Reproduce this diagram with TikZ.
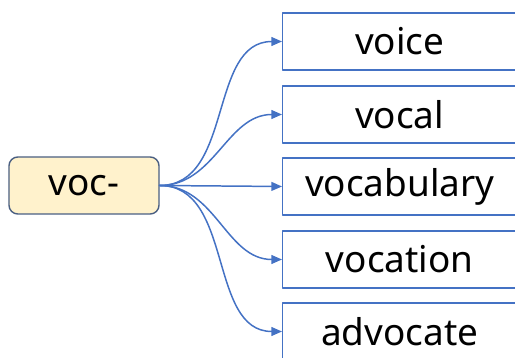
\documentclass[tikz,border=0pt]{standalone}
\usepackage{fontspec}
\setmainfont{Noto Sans}
\usetikzlibrary{arrows.meta}
\definecolor{linkblue}{HTML}{4472C4}
\definecolor{rootfill}{HTML}{FFF2CC}
\definecolor{rootline}{HTML}{4A5F82}
\begin{document}
\begin{tikzpicture}[line cap=round,line join=round,
  root/.style={draw=rootline,fill=rootfill,rounded corners=5pt,line width=0.8pt,
    minimum width=3cm,minimum height=1.14cm,inner sep=0pt,font=\fontsize{21}{24}\selectfont},
  word/.style={draw=linkblue,line width=0.8pt,minimum width=4.68cm,minimum height=1.14cm,
    inner sep=0pt,anchor=west,font=\fontsize{21}{24}\selectfont},
  link/.style={draw=linkblue,line width=0.85pt,-{Triangle[length=6pt,width=5pt]}}]
  \useasboundingbox (0,0) rectangle (10.3,7.16);
  \node[root] (voc) at (1.68,3.45) {voc-};
  \node[word] (voice) at (5.64,6.33) {voice};
  \node[word] (vocal) at (5.64,4.87) {vocal};
  \node[word] (vocabulary) at (5.64,3.43) {vocabulary};
  \node[word] (vocation) at (5.64,1.97) {vocation};
  \node[word] (advocate) at (5.64,0.53) {advocate};
  \draw[link] (voc.east) to[out=0,in=180] (voice.west);
  \draw[link] (voc.east) to[out=0,in=180] (vocal.west);
  \draw[link] (voc.east) -- (vocabulary.west);
  \draw[link] (voc.east) to[out=0,in=180] (vocation.west);
  \draw[link] (voc.east) to[out=0,in=180] (advocate.west);
\end{tikzpicture}
\end{document}
